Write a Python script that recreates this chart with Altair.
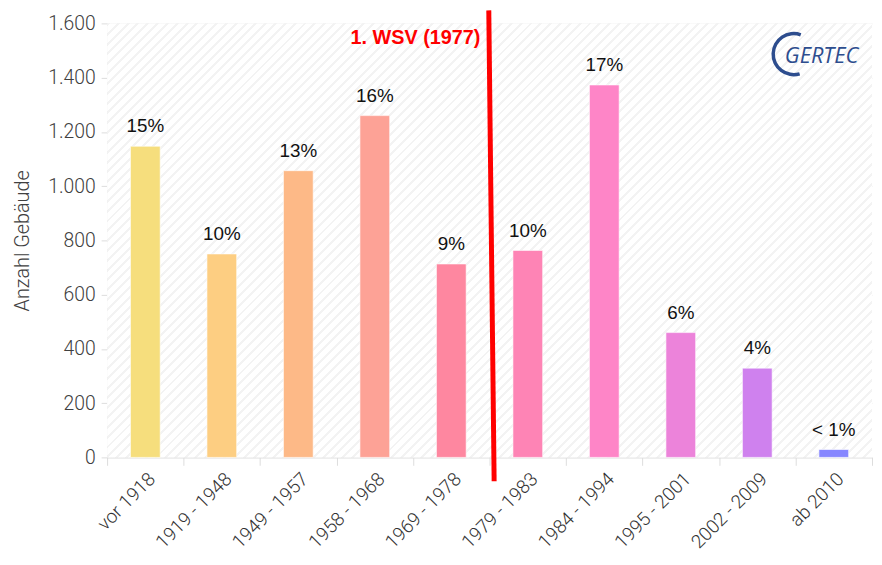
import altair as alt
import pandas as pd

categories = ["vor 1918", "1919 - 1948", "1949 - 1957", "1958 - 1968", "1969 - 1978",
              "1979 - 1983", "1984 - 1994", "1995 - 2001", "2002 - 2009", "ab 2010"]
values = [1147, 750, 1057, 1260, 713, 763, 1373, 460, 329, 29]
shares = ["15%", "10%", "13%", "16%", "9%", "10%", "17%", "6%", "4%", "< 1%"]
colors = ["#F6DE7D", "#FDCE82", "#FDB987", "#FDA296", "#FE87A0",
          "#FE84B5", "#FE85C7", "#EC83DA", "#CF81EE", "#8686FF"]

annotation_text = ["1. WSV (1977)"]
annotation_cat = ["1969 - 1978"]
annotation_next = ["1979 - 1983"]
annotation_y = [1545]
rule_top = [1648]
rule_bottom = [-88]
logo_text = ["GERTEC"]

df = pd.DataFrame({"cat": categories, "val": values, "share": shares, "color": colors})
ann = pd.DataFrame({"cat": annotation_cat, "cat2": annotation_next, "label": annotation_text,
                    "y": annotation_y, "top": rule_top, "bottom": rule_bottom})
logo = pd.DataFrame({"t": logo_text})

W, H = 772, 438
FONT = "Liberation Sans"
AXFONT = "Roboto"

# subtle diagonal hatching of the plot background (style only)
k = H / W
a = (1 + k) / (1 + k * k)
b = a * k
n_stripes = 122
stops = []
for i in range(n_stripes):
    t0 = i / n_stripes
    t1 = (i + 0.3) / n_stripes
    stops += [{"offset": t0, "color": "#F3F3F3"},
              {"offset": t1, "color": "#F3F3F3"},
              {"offset": t1, "color": "#FFFFFF"},
              {"offset": (i + 1) / n_stripes, "color": "#FFFFFF"}]
hatch = {"gradient": "linear", "x1": 0, "y1": 0, "x2": a, "y2": b, "stops": stops}

xscale = alt.Scale(paddingInner=0, paddingOuter=0)
x = alt.X("cat:N", sort=categories, title=None, scale=xscale,
          axis=alt.Axis(labelAngle=-45, labelFontSize=19, labelColor="#333333",
                        labelFont=AXFONT, labelFontWeight=300,
                        domainColor="#DDDDDD", tickColor="#DDDDDD",
                        tickSize=8, tickBand="extent", labelPadding=4, grid=False))
y = alt.Y("val:Q", scale=alt.Scale(domain=[0, 1600]), title="Anzahl Gebäude",
          axis=alt.Axis(values=list(range(0, 1601, 200)),
                        labelExpr="replace(format(datum.value, ',d'), ',', '.')",
                        labelFontSize=19.5, labelColor="#404040", labelFont=AXFONT,
                        labelFontWeight=300,
                        titleFontSize=20, titleColor="#404040", titleFont=AXFONT,
                        titleFontWeight=300, titlePadding=15,
                        domainColor="#DDDDDD", tickColor="#DDDDDD", tickSize=6,
                        gridColor="#EEEEEE", labelPadding=6))

background = alt.Chart(logo).mark_rect(color=hatch).encode(
    x=alt.value(0), x2=alt.value(W), y=alt.value(0), y2=alt.value(H))

bars = alt.Chart(df).mark_bar(size=30, stroke="#FFFFFF", strokeWidth=1, strokeOpacity=0.6).encode(
    x=x, y=y, color=alt.Color("color:N", scale=None))

labels = alt.Chart(df).mark_text(dy=-10, baseline="bottom", fontSize=19, font=FONT,
                                 color="#111111").encode(
    x=alt.X("cat:N", sort=categories), y="val:Q", text="share:N")

rule = alt.Chart(ann).mark_rule(color="#FF0000", strokeWidth=5, clip=False).encode(
    x=alt.X("cat:N", sort=categories, bandPosition=0.99),
    x2=alt.X2("cat2:N", bandPosition=0.06),
    y=alt.Y("top:Q"), y2="bottom:Q")

ann_text = alt.Chart(ann).mark_text(align="right", baseline="middle", fontSize=20,
                                    fontWeight="bold", font=FONT, color="#FF0000").encode(
    x=alt.X("cat:N", sort=categories, bandPosition=0.88), y="y:Q", text="label:N")

ring = alt.Chart(logo).mark_arc(color="#2D4D8E", clip=False).encode(
    x=alt.value(693), y=alt.value(31),
    theta=alt.value(2.85), theta2=alt.value(6.63),
    radius=alt.value(19), radius2=alt.value(22.5))

logo_t = alt.Chart(logo).mark_text(align="left", baseline="middle", fontSize=22,
                                   fontStyle="italic", font="Open Sans",
                                   color="#2D4D8E").encode(
    x=alt.value(684), y=alt.value(33), text="t:N")

chart = alt.layer(background, bars, labels, rule, ann_text, ring, logo_t).properties(
    width=W, height=H, autosize=alt.AutoSizeParams(type="none"),
    padding={"top": 13, "left": 100, "right": 2, "bottom": 97}
).configure_view(stroke=None).configure_axis(gridColor="#EEEEEE")

chart.save("out.html", embed_options={"renderer": "svg", "actions": False})
